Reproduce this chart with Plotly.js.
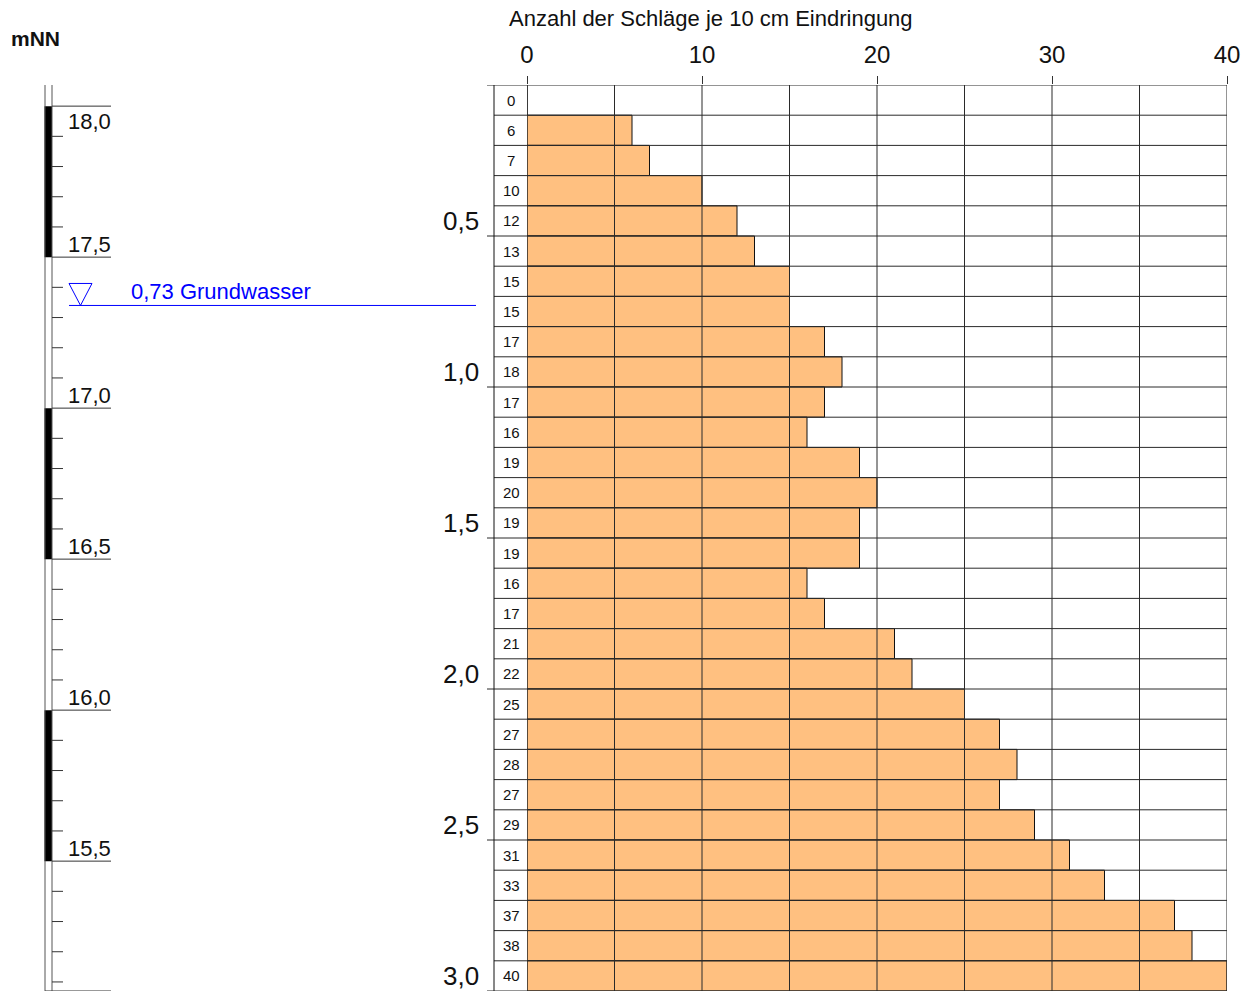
<!DOCTYPE html>
<html>
<head>
<meta charset="utf-8">
<script src="https://cdn.plot.ly/plotly-3.0.1.min.js"></script>
<style>html,body{margin:0;padding:0;background:#fff;}#chart{width:1254px;height:992px;}</style>
</head>
<body>
<div id="chart"></div>
<script>
// ---------- data ----------
const blows = [0, 6, 7, 10, 12, 13, 15, 15, 17, 18, 17, 16, 19, 20, 19, 19, 16, 17, 21, 22, 25, 27, 28, 27, 29, 31, 33, 37, 38, 40];
const depthStep = 0.1;
const maxDepth = 3.0;
const depthTicks = [0.5, 1.0, 1.5, 2.0, 2.5, 3.0];
const blowTicks = [0, 10, 20, 30, 40];
const groundElev = 18.07;
const elevMajor = [18.0, 17.5, 17.0, 16.5, 16.0, 15.5];
const elevFilled = [[18.0, 17.5], [17.0, 16.5], [16.0, 15.5]];
const gwDepth = 0.73;
const gwLabel = '0,73 Grundwasser';
const titleText = 'Anzahl der Schläge je 10 cm Eindringung';
const unitLabel = 'mNN';

// ---------- layout helpers ----------
const W = 1254, H = 992;
const PLOT_L = 527, PLOT_R = 1227, PLOT_T = 85, PLOT_B = 991;
const px = v => v / W;
const py = v => 1 - v / H;
const FONT = 'Liberation Sans, Arial, Helvetica, sans-serif';
const fmt = v => v.toFixed(1).replace('.', ',');

const depthMid = blows.map((_, i) => (i + 0.5) * depthStep);
const nRows = blows.length;

const shapes = [];
const annotations = [];
const gridColor = '#2a2a2a';

// vertical grid lines every 5 blows (drawn above bars)
for (let v = 0; v <= 40; v += 5) {
  shapes.push({type: 'line', xref: 'x', yref: 'y', x0: v, x1: v, y0: 0, y1: maxDepth,
    layer: 'above', line: {color: gridColor, width: 1}});
}
// horizontal row lines
for (let k = 0; k <= nRows; k++) {
  const d = k * depthStep;
  const major = (k % 5 === 0);
  shapes.push({type: 'line', xref: 'paper', yref: 'y', x0: px(major ? 487 : 494), x1: px(PLOT_R), y0: d, y1: d,
    layer: 'above', line: {color: gridColor, width: 1}});
}
// label column left border
shapes.push({type: 'line', xref: 'paper', yref: 'y', x0: px(494), x1: px(494), y0: 0, y1: maxDepth,
  layer: 'above', line: {color: '#111', width: 1}});

// row value labels
blows.forEach((b, i) => {
  annotations.push({xref: 'paper', yref: 'y', x: px(511), y: depthMid[i], text: String(b),
    showarrow: false, xanchor: 'center', yanchor: 'middle', font: {family: FONT, size: 15, color: '#111'}});
});

// depth labels
depthTicks.forEach(d => {
  annotations.push({xref: 'paper', yref: 'y', x: px(481), y: d, text: fmt(d), showarrow: false,
    xanchor: 'right', yanchor: 'bottom', yshift: -2, font: {family: FONT, size: 26, color: '#111'}});
});

// ---------- elevation column (left) ----------
const eToD = e => groundElev - e;
elevFilled.forEach(([a, b]) => {
  shapes.push({type: 'rect', xref: 'paper', yref: 'y', x0: px(44.5), x1: px(52), y0: eToD(a), y1: eToD(b),
    fillcolor: '#000', line: {width: 0}, layer: 'above'});
});
[45, 52].forEach(x => {
  shapes.push({type: 'line', xref: 'paper', yref: 'y', x0: px(x), x1: px(x), y0: 0, y1: maxDepth,
    line: {color: '#555', width: 1}, layer: 'above'});
});
// minor ticks every 0.1 m
for (let k = Math.ceil((groundElev - maxDepth) * 10); k <= Math.floor(groundElev * 10); k++) {
  if (k % 5 === 0) continue;
  const d = eToD(k / 10);
  shapes.push({type: 'line', xref: 'paper', yref: 'y', x0: px(52), x1: px(63), y0: d, y1: d,
    line: {color: '#333', width: 1}, layer: 'above'});
}
// major lines + labels
elevMajor.forEach(e => {
  const d = eToD(e);
  shapes.push({type: 'line', xref: 'paper', yref: 'y', x0: px(52), x1: px(111), y0: d, y1: d,
    line: {color: '#333', width: 1}, layer: 'above'});
  const below = d < 0.15;
  annotations.push({xref: 'paper', yref: 'y', x: px(112.5), y: d, text: fmt(e), showarrow: false,
    xanchor: 'right', yanchor: below ? 'top' : 'bottom', yshift: below ? -1 : -2,
    font: {family: FONT, size: 22, color: '#111'}});
});
// bottom line
shapes.push({type: 'line', xref: 'paper', yref: 'y', x0: px(45), x1: px(111), y0: maxDepth, y1: maxDepth,
  line: {color: '#333', width: 1}, layer: 'above'});

// groundwater
shapes.push({type: 'line', xref: 'paper', yref: 'y', x0: px(69), x1: px(476), y0: gwDepth, y1: gwDepth,
  line: {color: '#0000ff', width: 1}, layer: 'above'});
shapes.push({type: 'path', xref: 'paper', yref: 'y', xsizemode: 'pixel', ysizemode: 'pixel',
  xanchor: px(80.5), yanchor: gwDepth, path: 'M -11.5 22 L 11.5 22 L 0 0 Z',
  line: {color: '#0000ff', width: 1}, fillcolor: 'rgba(0,0,0,0)', layer: 'above'});
annotations.push({xref: 'paper', yref: 'y', x: px(129), y: gwDepth, text: gwLabel, showarrow: false,
  xanchor: 'left', yanchor: 'bottom', yshift: -1, font: {family: FONT, size: 22, color: '#0000ff'}});

// unit label
annotations.push({xref: 'paper', yref: 'paper', x: px(9), y: py(38), text: '<b>' + unitLabel + '</b>',
  showarrow: false, xanchor: 'left', yanchor: 'middle', font: {family: FONT, size: 21, color: '#111'}});

// ---------- traces ----------
const traces = [{
  type: 'bar', orientation: 'h', x: blows, y: depthMid, width: depthStep,
  marker: {color: '#FFC080', line: {color: '#111', width: 1}},
  hoverinfo: 'x+y', showlegend: false
}];

const layout = {
  width: W, height: H,
  margin: {l: 0, r: 0, t: 0, b: 0},
  paper_bgcolor: '#fff', plot_bgcolor: '#fff',
  font: {family: FONT, color: '#111'},
  title: {text: titleText, x: px(509), xanchor: 'left', xref: 'paper', yref: 'paper', y: py(18), yanchor: 'middle',
    font: {family: FONT, size: 22, color: '#111'}},
  xaxis: {domain: [px(PLOT_L), px(PLOT_R)], range: [0, 40], side: 'top', tickvals: blowTicks,
    ticks: 'outside', ticklen: 8, tickcolor: '#333', tickwidth: 1, showgrid: false, zeroline: false,
    showline: false, ticklabelstandoff: 3, tickfont: {family: FONT, size: 24, color: '#111'}, fixedrange: true},
  yaxis: {domain: [1 - PLOT_B / H, 1 - PLOT_T / H], range: [maxDepth, 0], showticklabels: false, ticks: '',
    showgrid: false, zeroline: false, showline: false, fixedrange: true},
  bargap: 0,
  shapes: shapes,
  annotations: annotations
};

Plotly.newPlot('chart', traces, layout, {displayModeBar: false, staticPlot: true});
</script>
</body>
</html>
